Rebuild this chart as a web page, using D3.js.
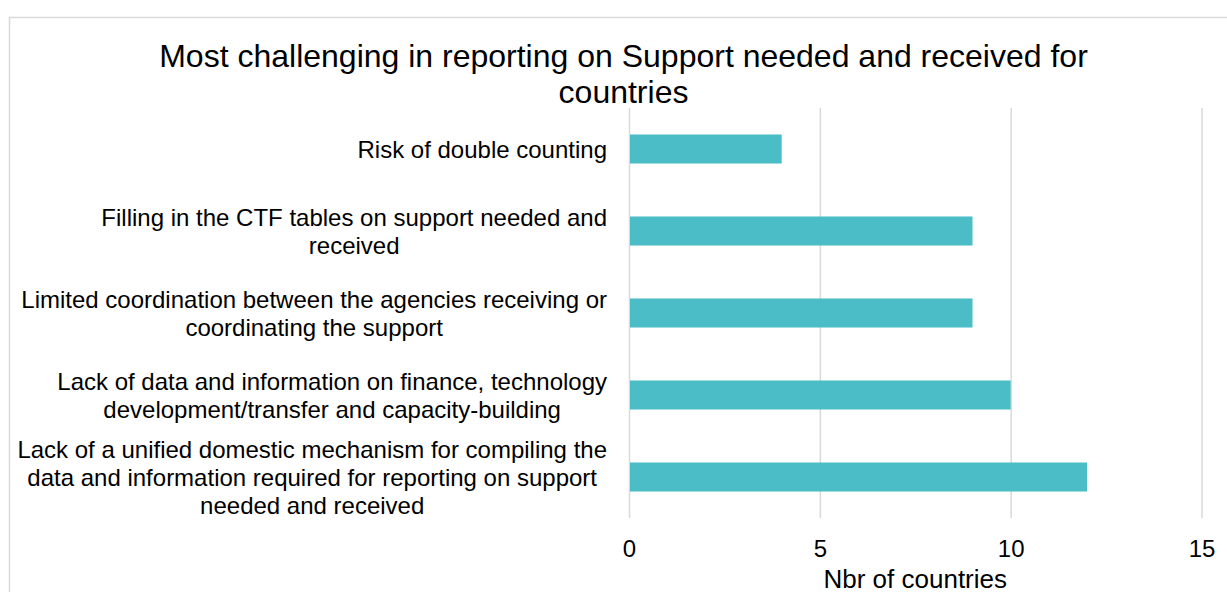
<!DOCTYPE html>
<html>
<head>
<meta charset="utf-8">
<script src="https://cdn.jsdelivr.net/npm/d3@7"></script>
<style>
  html, body { margin: 0; padding: 0; background: #fff; }
  svg { display: block; font-family: "Liberation Sans", Arial, sans-serif; }
</style>
</head>
<body>
<svg id="chart" width="1227" height="592"></svg>
<script>
// Challenges, top to bottom; each entry lists the wrapped lines of its label
const categories = [
  ["Risk of double counting"],
  ["Filling in the CTF tables on support needed and", "received"],
  ["Limited coordination between the agencies receiving or", "coordinating the support"],
  ["Lack of data and information on finance, technology", "development/transfer and capacity-building"],
  ["Lack of a unified domestic mechanism for compiling the", "data and information required for reporting on support", "needed and received"]
];
const values = [4, 9, 9, 10, 12];
const tickValues = [0, 5, 10, 15];
const titleLines = ["Most challenging in reporting on Support needed and received for", "countries"];
const axisTitle = "Nbr of countries";

const svg = d3.select("#chart");
const W = 1227, H = 592;
const plot = { left: 629, right: 1201.5, top: 108, bottom: 518 };

// chart frame
svg.append("rect")
  .attr("x", 9.5).attr("y", 17.5)
  .attr("width", W + 10).attr("height", H + 10)
  .attr("fill", "#fff").attr("stroke", "#d9d9d9").attr("stroke-width", 1.5);

const ids = categories.map((c, i) => i);
const x = d3.scaleLinear().domain([0, 15]).range([plot.left, plot.right]);
const y = d3.scaleBand().domain(ids).range([plot.top, plot.bottom])
  .paddingInner(0.646).paddingOuter(0.323);

// vertical gridlines + tick labels
const xAxis = d3.axisBottom(x)
  .tickValues(tickValues)
  .tickSize(-(plot.bottom - plot.top))
  .tickPadding(0)
  .tickFormat(d3.format("d"));
const gx = svg.append("g")
  .attr("transform", `translate(0,${plot.bottom})`)
  .call(xAxis);
gx.select(".domain").remove();
gx.selectAll(".tick line").attr("stroke", "#d9d9d9").attr("stroke-width", 1.5);
gx.selectAll(".tick text")
  .attr("y", 39).attr("dy", 0)
  .attr("fill", "#000")
  .style("font-size", "24px")
  .style("font-family", "'Liberation Sans', Arial, sans-serif");

// bars
svg.append("g").selectAll("rect")
  .data(values)
  .join("rect")
  .attr("x", x(0) + 1)
  .attr("y", (d, i) => y(i))
  .attr("width", d => x(d) - x(0) - 1)
  .attr("height", y.bandwidth())
  .attr("fill", "#4abdc7");

// category labels: block right-aligned, lines centred inside the block
const labelRight = 607;
const lineH = 28;
const lg = svg.append("g").style("font-size", "24px").attr("fill", "#000");
categories.forEach((lines, i) => {
  const cy = y(i) + y.bandwidth() / 2;
  const t = lg.append("text").attr("text-anchor", "middle");
  const spans = lines.map((ln, k) => t.append("tspan")
    .attr("x", 0)
    .attr("y", cy + (k - (lines.length - 1) / 2) * lineH + 8.5)
    .text(ln));
  const blockW = d3.max(spans, s => s.node().getComputedTextLength());
  spans.forEach(s => s.attr("x", labelRight - blockW / 2));
});

// title
const tg = svg.append("g").attr("text-anchor", "middle").style("font-size", "32px").attr("fill", "#000");
titleLines.forEach((ln, k) => {
  tg.append("text").attr("x", 623.5).attr("y", 67 + k * 36).text(ln);
});

// axis title
svg.append("text")
  .attr("x", (plot.left + plot.right) / 2)
  .attr("y", 588)
  .attr("text-anchor", "middle")
  .style("font-size", "26px")
  .attr("fill", "#000")
  .text(axisTitle);
</script>
</body>
</html>
